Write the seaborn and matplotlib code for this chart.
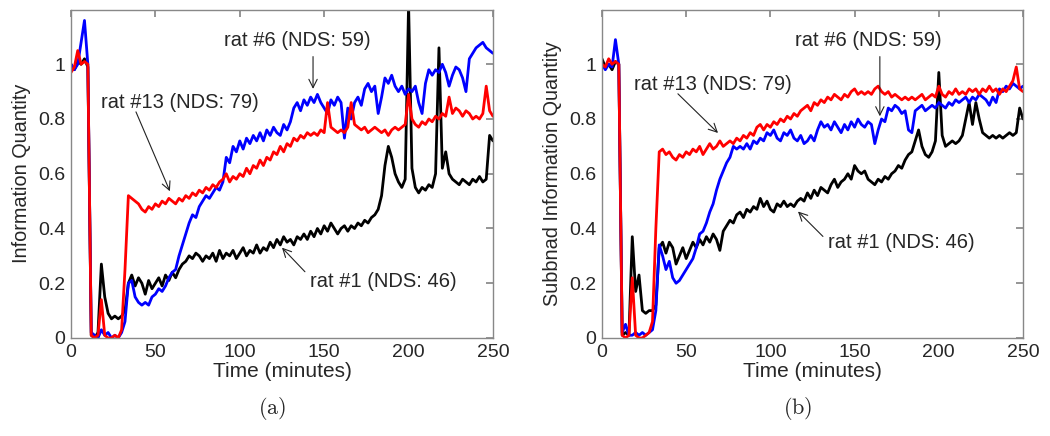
import numpy as np
import pandas as pd
import matplotlib
matplotlib.use("Agg")
import matplotlib.pyplot as plt
import seaborn as sns

# time axis, one sample every 2 minutes
minutes = list(range(0, 251, 2))

# (a) information quantity
a_rat1 = [
    1.00, 0.98, 1.01, 1.00, 1.02, 0.99, 0.01, 0.00, 0.02, 0.27,
    0.15, 0.09, 0.07, 0.08, 0.07, 0.08, 0.10, 0.20, 0.23, 0.19,
    0.22, 0.20, 0.16, 0.21, 0.18, 0.20, 0.22, 0.19, 0.23, 0.21,
    0.24, 0.22, 0.25, 0.27, 0.28, 0.30, 0.29, 0.31, 0.30, 0.28,
    0.30, 0.29, 0.31, 0.28, 0.32, 0.29, 0.31, 0.30, 0.32, 0.29,
    0.31, 0.33, 0.30, 0.32, 0.31, 0.34, 0.31, 0.33, 0.32, 0.35,
    0.33, 0.36, 0.34, 0.37, 0.35, 0.36, 0.34, 0.37, 0.36, 0.38,
    0.36, 0.39, 0.37, 0.40, 0.38, 0.41, 0.39, 0.42, 0.40, 0.38,
    0.40, 0.41, 0.39, 0.41, 0.40, 0.42, 0.41, 0.43, 0.42, 0.44,
    0.45, 0.47, 0.52, 0.63, 0.70, 0.66, 0.60, 0.57, 0.55, 0.58,
    1.22, 0.62, 0.55, 0.53, 0.55, 0.54, 0.56, 0.55, 0.60, 1.06,
    0.62, 0.68, 0.60, 0.58, 0.57, 0.56, 0.58, 0.57, 0.56, 0.58,
    0.57, 0.59, 0.57, 0.58, 0.74, 0.72]
a_rat6 = [
    1.00, 0.98, 1.00, 1.08, 1.16, 1.00, 0.02, 0.01, 0.00, 0.03,
    0.01, 0.02, 0.00, 0.01, 0.00, 0.02, 0.06, 0.20, 0.21, 0.15,
    0.13, 0.12, 0.13, 0.12, 0.15, 0.16, 0.18, 0.17, 0.19, 0.22,
    0.24, 0.25, 0.30, 0.34, 0.38, 0.42, 0.45, 0.44, 0.48, 0.50,
    0.52, 0.51, 0.53, 0.55, 0.54, 0.57, 0.66, 0.64, 0.70, 0.68,
    0.72, 0.69, 0.73, 0.71, 0.74, 0.72, 0.75, 0.72, 0.76, 0.74,
    0.77, 0.75, 0.74, 0.78, 0.76, 0.79, 0.84, 0.86, 0.83, 0.87,
    0.85, 0.88, 0.86, 0.89, 0.86, 0.84, 0.82, 0.87, 0.85, 0.88,
    0.86, 0.73, 0.84, 0.80, 0.86, 0.88, 0.85, 0.91, 0.93, 0.90,
    0.92, 0.82, 0.88, 0.95, 0.93, 0.96, 0.92, 0.90, 0.92, 0.89,
    0.91, 0.90, 0.92, 0.86, 0.82, 0.93, 0.98, 0.96, 0.98, 0.97,
    1.00, 0.97, 0.92, 0.96, 0.99, 0.98, 0.95, 0.90, 1.02, 1.04,
    1.06, 1.07, 1.08, 1.06, 1.05, 1.04]
a_rat13 = [
    0.97, 0.99, 1.05, 1.00, 1.01, 1.00, 0.01, 0.00, 0.01, 0.14,
    0.01, 0.00, 0.00, 0.01, 0.00, 0.03, 0.25, 0.52, 0.51, 0.50,
    0.49, 0.47, 0.46, 0.48, 0.47, 0.49, 0.48, 0.50, 0.49, 0.51,
    0.50, 0.49, 0.51, 0.50, 0.52, 0.51, 0.53, 0.52, 0.54, 0.53,
    0.55, 0.54, 0.56, 0.55, 0.57, 0.58, 0.60, 0.57, 0.59, 0.58,
    0.60, 0.59, 0.62, 0.60, 0.63, 0.62, 0.65, 0.63, 0.66, 0.65,
    0.68, 0.67, 0.70, 0.68, 0.71, 0.70, 0.73, 0.72, 0.74, 0.73,
    0.75, 0.74, 0.75, 0.74, 0.76, 0.75, 0.86, 0.77, 0.76, 0.75,
    0.76, 0.75, 0.77, 0.86, 0.78, 0.77, 0.76, 0.77, 0.75, 0.76,
    0.77, 0.76, 0.75, 0.76, 0.74, 0.76, 0.77, 0.76, 0.77, 0.78,
    0.89, 0.80, 0.78, 0.77, 0.79, 0.78, 0.80, 0.79, 0.81, 0.80,
    0.82, 0.81, 0.88, 0.82, 0.84, 0.83, 0.81, 0.83, 0.82, 0.80,
    0.81, 0.80, 0.82, 0.92, 0.83, 0.81]

# (b) subband information quantity
b_rat1 = [
    1.02, 0.99, 1.00, 0.98, 1.01, 1.00, 0.01, 0.02, 0.01, 0.37,
    0.17, 0.23, 0.10, 0.09, 0.10, 0.10, 0.12, 0.33, 0.35, 0.31,
    0.35, 0.33, 0.27, 0.30, 0.33, 0.29, 0.32, 0.35, 0.33, 0.36,
    0.34, 0.37, 0.35, 0.38, 0.36, 0.32, 0.39, 0.41, 0.43, 0.42,
    0.45, 0.46, 0.44, 0.47, 0.46, 0.48, 0.47, 0.51, 0.48, 0.50,
    0.47, 0.46, 0.49, 0.48, 0.50, 0.48, 0.49, 0.48, 0.50, 0.51,
    0.50, 0.53, 0.51, 0.54, 0.52, 0.55, 0.54, 0.53, 0.56, 0.58,
    0.55, 0.57, 0.58, 0.60, 0.58, 0.63, 0.61, 0.60, 0.61, 0.58,
    0.57, 0.56, 0.58, 0.57, 0.59, 0.58, 0.60, 0.61, 0.63, 0.62,
    0.65, 0.67, 0.68, 0.72, 0.76, 0.70, 0.67, 0.66, 0.68, 0.72,
    0.97, 0.74, 0.70, 0.71, 0.72, 0.71, 0.72, 0.74, 0.80, 0.86,
    0.78, 0.86, 0.80, 0.75, 0.74, 0.73, 0.74, 0.73, 0.74, 0.73,
    0.74, 0.75, 0.74, 0.75, 0.84, 0.80]
b_rat6 = [
    1.00, 0.98, 1.00, 0.99, 1.09, 1.00, 0.02, 0.05, 0.01, 0.01,
    0.02, 0.01, 0.02, 0.01, 0.02, 0.03, 0.10, 0.34, 0.30, 0.25,
    0.28, 0.22, 0.20, 0.21, 0.23, 0.25, 0.27, 0.29, 0.33, 0.38,
    0.39, 0.42, 0.46, 0.49, 0.54, 0.58, 0.61, 0.64, 0.66, 0.70,
    0.69, 0.70, 0.69, 0.71, 0.69, 0.72, 0.71, 0.73, 0.72, 0.75,
    0.74, 0.76, 0.73, 0.72, 0.75, 0.74, 0.76, 0.73, 0.72, 0.74,
    0.71, 0.72, 0.74, 0.72, 0.76, 0.79, 0.77, 0.78, 0.76, 0.79,
    0.77, 0.75, 0.78, 0.76, 0.79, 0.77, 0.80, 0.78, 0.77, 0.79,
    0.78, 0.71, 0.76, 0.80, 0.79, 0.84, 0.83, 0.85, 0.84, 0.82,
    0.83, 0.76, 0.75, 0.83, 0.84, 0.85, 0.83, 0.84, 0.85, 0.84,
    0.86, 0.85, 0.84, 0.86, 0.85, 0.87, 0.86, 0.87, 0.88, 0.86,
    0.88, 0.87, 0.89, 0.88, 0.87, 0.85, 0.88, 0.86, 0.91, 0.90,
    0.92, 0.91, 0.93, 0.92, 0.91, 0.92]
b_rat13 = [
    1.00, 0.99, 1.02, 1.00, 1.01, 1.00, 0.01, 0.00, 0.01, 0.22,
    0.01, 0.00, 0.00, 0.01, 0.02, 0.06, 0.40, 0.68, 0.69, 0.67,
    0.68, 0.66, 0.65, 0.67, 0.66, 0.68, 0.67, 0.69, 0.68, 0.70,
    0.67, 0.69, 0.71, 0.69, 0.70, 0.72, 0.70, 0.71, 0.72, 0.71,
    0.73, 0.72, 0.74, 0.73, 0.75, 0.74, 0.77, 0.78, 0.76, 0.78,
    0.77, 0.79, 0.78, 0.80, 0.79, 0.81, 0.80, 0.82, 0.81, 0.83,
    0.84, 0.85, 0.83, 0.86, 0.85, 0.87, 0.86, 0.88, 0.87, 0.89,
    0.88, 0.87, 0.89, 0.88, 0.90, 0.91, 0.89, 0.90, 0.89, 0.90,
    0.89, 0.91, 0.92, 0.90, 0.89, 0.90, 0.88, 0.89, 0.88, 0.87,
    0.88, 0.87, 0.88, 0.87, 0.88, 0.89, 0.87, 0.88, 0.89, 0.88,
    0.92, 0.89, 0.88, 0.90, 0.89, 0.91, 0.89, 0.90, 0.89, 0.91,
    0.90, 0.91, 0.89, 0.91, 0.90, 0.92, 0.90, 0.91, 0.89, 0.91,
    0.90, 0.92, 0.94, 0.99, 0.91, 0.90]

labels = ["rat #1 (NDS: 46)", "rat #6 (NDS: 59)", "rat #13 (NDS: 79)"]
colors = ["#000000", "#0000ff", "#ff0000"]

# label text position, arrow tail, arrow tip (data coords) per panel
notes_a = [((184.8, 0.206), (138.6, 0.242), (125.0, 0.330)),
           ((134.2, 1.086), (143.4, 1.028), (143.4, 0.910)),
           ((64.6, 0.862), (38.5, 0.826), (58.6, 0.536))]
notes_b = [((178.0, 0.349), (131.2, 0.371), (116.4, 0.462)),
           ((158.0, 1.086), (165.0, 1.028), (165.0, 0.810)),
           ((65.9, 0.925), (45.1, 0.892), (68.9, 0.749))]

sns.set_theme(style="white")
plt.rcParams['font.family'] = ['Liberation Sans', 'DejaVu Sans']
plt.rcParams['mathtext.fontset'] = 'cm'

fig = plt.figure(figsize=(10.5, 4.36), dpi=100)
ax_a = fig.add_axes([0.0676, 0.2248, 0.4019, 0.7534])
ax_b = fig.add_axes([0.5733, 0.2248, 0.4010, 0.7534])


def draw_panel(ax, series, notes, ylabel):
    for vals, lab, col in zip(series, labels, colors):
        df = pd.DataFrame({'Time': minutes, 'Value': vals})
        sns.lineplot(data=df, x='Time', y='Value', color=col, lw=2.0, ax=ax)
    for lab, (txt, tail, tip) in zip(labels, notes):
        ax.text(txt[0], txt[1], lab, ha='center', va='center', fontsize=14.5)
        ax.annotate('', xy=tip, xytext=tail,
                    arrowprops=dict(arrowstyle='->', color='#222222', lw=0.8,
                                    mutation_scale=15, shrinkA=0, shrinkB=0))
    ax.set_xlim(0, 250)
    ax.set_ylim(0, 1.2)
    ax.set_xticks([0, 50, 100, 150, 200, 250])
    ax.set_yticks([0, 0.2, 0.4, 0.6, 0.8, 1.0])
    ax.set_yticklabels(['0', '0.2', '0.4', '0.6', '0.8', '1'])
    ax.tick_params(direction='in', top=True, right=True, length=5,
                   color='#888888', labelsize=14, pad=4)
    for sp in ax.spines.values():
        sp.set_color('#888888')
        sp.set_linewidth(1.0)
    ax.set_xlabel('Time (minutes)', fontsize=15, labelpad=1)
    ax.set_ylabel(ylabel, fontsize=14.3, labelpad=5)


draw_panel(ax_a, [a_rat1, a_rat6, a_rat13], notes_a, 'Information Quantity')
draw_panel(ax_b, [b_rat1, b_rat6, b_rat13], notes_b, 'Subbnad Information Quantity')

fig.text(272 / 1050, 1 - 408 / 436, r'$\mathrm{(a)}$', ha='center', va='center', fontsize=16)
fig.text(798 / 1050, 1 - 408 / 436, r'$\mathrm{(b)}$', ha='center', va='center', fontsize=16)

fig.savefig('out.png', dpi=100)
